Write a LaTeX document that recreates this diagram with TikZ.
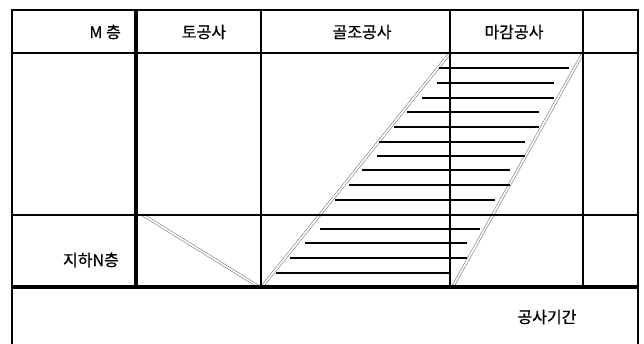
\documentclass[tikz,border=0pt]{standalone}
\usepackage{fontspec}
\newfontfamily\kr[FakeBold=0.6]{Noto Sans CJK KR}
\begin{document}
\begin{tikzpicture}[x=1pt,y=-1pt,
  grid/.style={line width=1.1pt,line cap=rect},
  heavy/.style={line width=3.6pt},
  hatch/.style={line width=1.4pt},
  dbl/.style={draw=black!60,line width=0.5pt,double=white,double distance=1.8pt},
  lbl/.style={font=\kr\fontsize{16}{19}\selectfont,inner sep=0pt}]
\useasboundingbox (0,0) rectangle (644,343);
% corner points of the schedule lines
\coordinate (v0) at (143,215);
\coordinate (v1) at (261,288);
\coordinate (p1) at (450,53);
\coordinate (q0) at (452,288);
\coordinate (q1) at (583,53);
\draw[dbl] (v0) -- (v1);
\draw[dbl] (v1) -- (p1);
\draw[dbl] (q0) -- (q1);
% hatch lines
\foreach \yy/\xa/\xb in {68/439/569,83/437/554,98/422/554,112/407/539,127/394/539,
  142/379/525,156/377/525,170/362/510,185/349/510,200/335/495,229/320/480,
  243/305/467,258/290/467,273/276/450}
  \draw[hatch] (\xa,\yy) -- (\xb,\yy);
% grid
\draw[grid] (12,343) -- (12,10) -- (638,10) -- (638,343);
\draw[grid] (12,53) -- (638,53);
\draw[grid] (12,215) -- (638,215);
\foreach \xx in {261,450,583} \draw[grid] (\xx,10) -- (\xx,287);
\draw[heavy] (136,10) -- (136,287);
\draw[heavy] (12,287) -- (638,287);
% labels
\node[lbl,anchor=east] (m) at (121,32) {M 층};
\node[lbl] (earth) at (204,32) {토공사};
\node[lbl] (frame) at (362,32) {골조공사};
\node[lbl] (finish) at (514,32) {마감공사};
\node[lbl,anchor=east] (basement) at (119,260) {지하N층};
\node[lbl] (period) at (547,317) {공사기간};
\end{tikzpicture}
\end{document}
